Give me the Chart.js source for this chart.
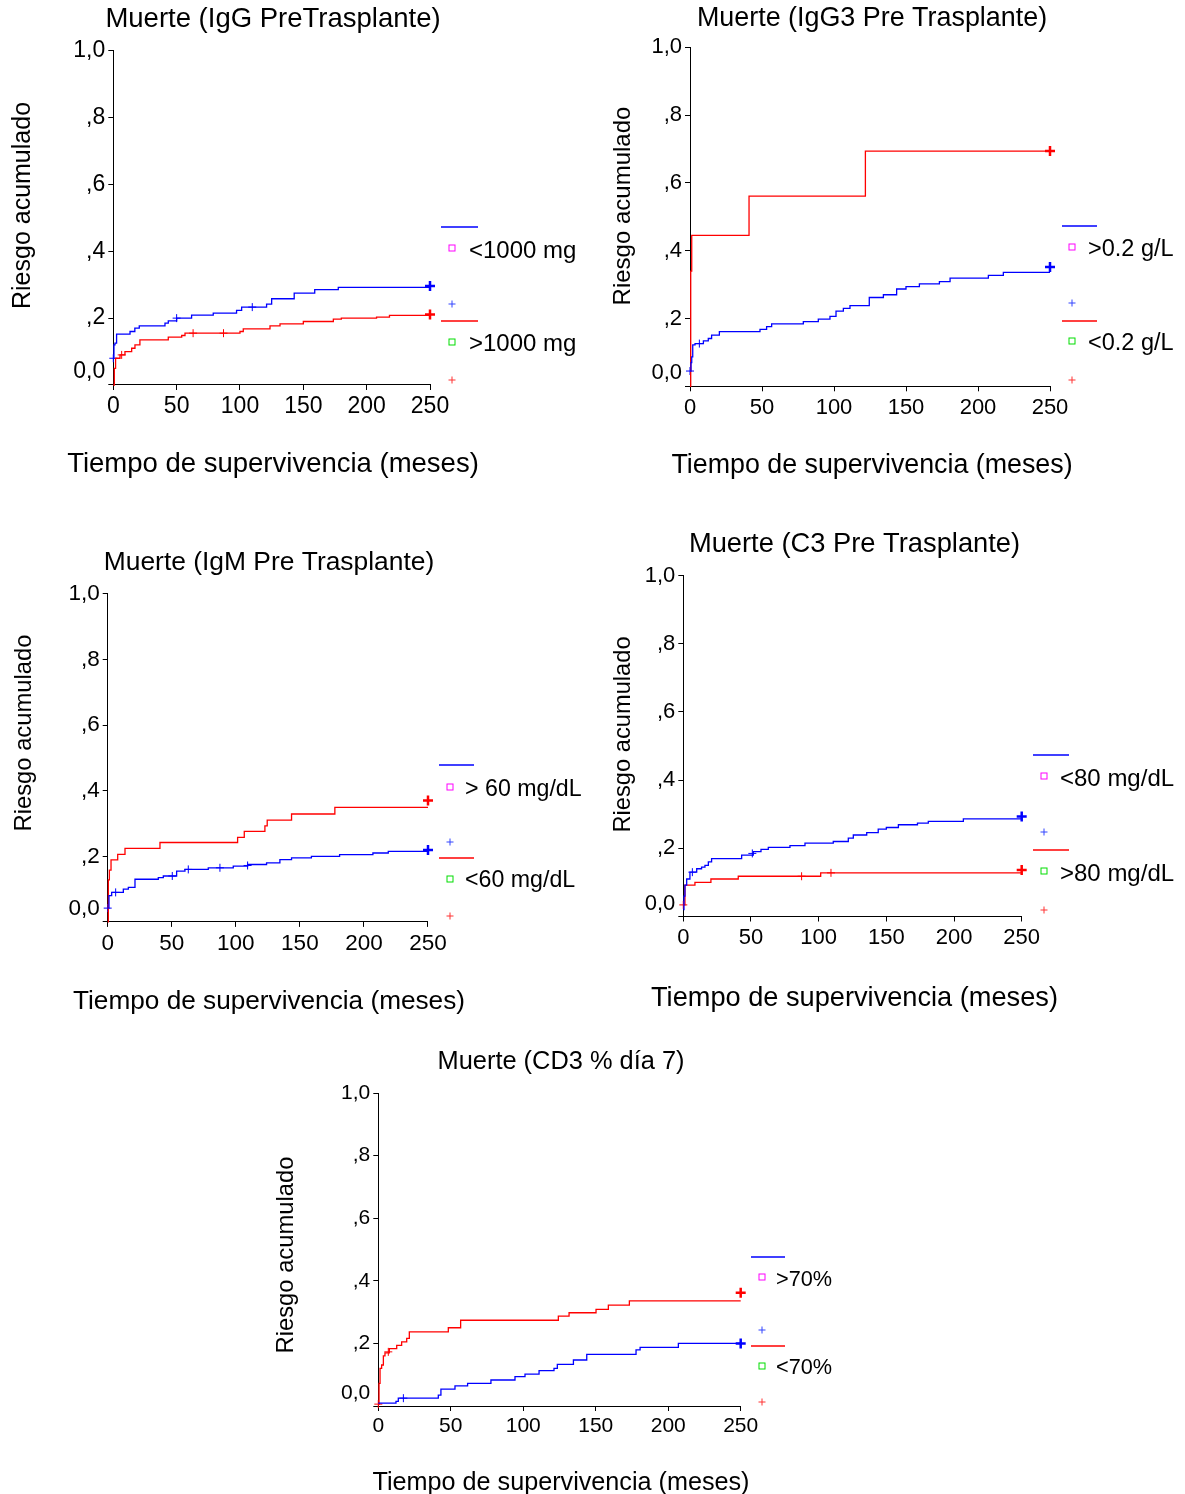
<!DOCTYPE html>
<html>
<head>
<meta charset="utf-8">
<script src="https://cdn.jsdelivr.net/npm/chart.js@4"></script>
<style>
html,body{margin:0;padding:0;background:#fff;}
#wrap{position:relative;width:1185px;height:1494px;overflow:hidden;}
#wrap canvas{position:absolute;left:0;top:0;}
</style>
</head>
<body>
<div id="wrap">
<canvas id="c1" width="1185" height="1494"></canvas>
<canvas id="c2" width="1185" height="1494"></canvas>
<canvas id="c3" width="1185" height="1494"></canvas>
<canvas id="c4" width="1185" height="1494"></canvas>
<canvas id="c5" width="1185" height="1494"></canvas>
</div>
<script>
// ---------------- DATA ----------------
const xTicks = [0, 50, 100, 150, 200, 250];
const yTicks = [0, 0.2, 0.4, 0.6, 0.8, 1.0];
const yTickLabels = ['0,0', ',2', ',4', ',6', ',8', '1,0'];
const xAxisTitle = 'Tiempo de supervivencia (meses)';
const yAxisTitle = 'Riesgo acumulado';

// Panel 1: IgG
const p1Title = 'Muerte (IgG PreTrasplante)';
const p1Labels = ['<1000 mg', '>1000 mg'];
const p1BlueT = [0, 0.5, 1.3, 2.6, 13.2, 17, 20.5, 40.8, 43.4, 50, 61.8, 78.9, 97.3, 101.3, 121, 125, 142.8, 159, 177.6, 250];
const p1BlueV = [0.08, 0.12, 0.125, 0.152, 0.16, 0.17, 0.177, 0.185, 0.192, 0.2, 0.209, 0.215, 0.223, 0.233, 0.242, 0.258, 0.275, 0.285, 0.292, 0.292];
const p1BlueCensT = [0, 50, 109.7];
const p1BlueCensV = [0.08, 0.2, 0.233];
const p1BlueEnd = [250, 0.296];
const p1RedT = [0, 0.8, 1.8, 5.3, 9.2, 14.5, 17.1, 21, 43.4, 54, 56.6, 100, 102.6, 123.7, 131.6, 150, 173.7, 180, 207.8, 218, 250];
const p1RedV = [0, 0.05, 0.08, 0.09, 0.1, 0.11, 0.12, 0.135, 0.143, 0.148, 0.155, 0.16, 0.168, 0.177, 0.183, 0.19, 0.197, 0.2, 0.203, 0.208, 0.208];
const p1RedCensT = [6.6, 63, 87];
const p1RedCensV = [0.09, 0.155, 0.155];
const p1RedEnd = [250, 0.211];

// Panel 2: IgG3
const p2Title = 'Muerte (IgG3 Pre Trasplante)';
const p2Labels = ['>0.2 g/L', '<0.2 g/L'];
const p2BlueT = [0, 0.7, 1.2, 1.9, 3.5, 9.3, 12.7, 15, 20.4, 48.6, 53.2, 56.7, 78.7, 89.1, 97.2, 101.4, 106.5, 111.1, 124.5, 134.3, 143.5, 150, 159.3, 173.2, 180.6, 207.2, 217.6, 250];
const p2BlueV = [0.045, 0.07, 0.087, 0.122, 0.126, 0.134, 0.141, 0.151, 0.161, 0.168, 0.176, 0.184, 0.191, 0.198, 0.206, 0.222, 0.23, 0.238, 0.262, 0.27, 0.287, 0.294, 0.302, 0.309, 0.319, 0.327, 0.336, 0.336];
const p2BlueCensT = [0, 6.5];
const p2BlueCensV = [0.045, 0.126];
const p2BlueEnd = [250, 0.352];
const p2RedT = [0, 0.5, 1.2, 41, 121.8, 250];
const p2RedV = [0, 0.34, 0.445, 0.561, 0.694, 0.694];
const p2RedCensT = [];
const p2RedCensV = [];
const p2RedEnd = [250, 0.694];

// Panel 3: IgM
const p3Title = 'Muerte (IgM Pre Trasplante)';
const p3Labels = ['> 60 mg/dL', '<60 mg/dL'];
const p3BlueT = [0, 1, 3.1, 12.2, 16.1, 21.3, 39.5, 43.4, 53.8, 60.3, 78.5, 98, 109.2, 124, 134.4, 143.5, 159, 181, 207, 219, 250];
const p3BlueV = [0.042, 0.08, 0.09, 0.1, 0.105, 0.13, 0.135, 0.14, 0.155, 0.16, 0.165, 0.17, 0.175, 0.18, 0.19, 0.195, 0.2, 0.205, 0.21, 0.215, 0.215];
const p3BlueCensT = [0, 6.2, 50.4, 62.9, 87.6, 109.2];
const p3BlueCensV = [0.042, 0.09, 0.14, 0.16, 0.165, 0.172];
const p3BlueEnd = [250, 0.219];
const p3RedT = [0, 0.5, 1.3, 2.6, 7.8, 13.5, 40.8, 101.4, 106.6, 122.7, 124.5, 143.5, 177.3, 250];
const p3RedV = [0, 0.128, 0.158, 0.189, 0.206, 0.224, 0.242, 0.258, 0.276, 0.293, 0.31, 0.329, 0.349, 0.349];
const p3RedCensT = [];
const p3RedCensV = [];
const p3RedEnd = [250, 0.37];

// Panel 4: C3
const p4Title = 'Muerte (C3 Pre Trasplante)';
const p4Labels = ['<80 mg/dL', '>80 mg/dL'];
const p4BlueT = [0, 0.5, 1.2, 2.5, 4.9, 9.9, 13.5, 16, 18.5, 20.9, 43.1, 51.7, 57.4, 62.8, 78.8, 89.9, 110.8, 121.9, 125.6, 135.5, 144, 150, 158.9, 173, 181, 206.9, 250];
const p4BlueV = [0.02, 0.06, 0.092, 0.11, 0.13, 0.14, 0.145, 0.15, 0.16, 0.17, 0.18, 0.19, 0.197, 0.203, 0.208, 0.215, 0.22, 0.23, 0.239, 0.246, 0.256, 0.261, 0.269, 0.274, 0.279, 0.286, 0.286];
const p4BlueCensT = [6.7, 51];
const p4BlueCensV = [0.13, 0.185];
const p4BlueEnd = [250, 0.293];
const p4RedT = [0, 1.2, 8.6, 20.4, 40.6, 101.5, 250];
const p4RedV = [0.034, 0.092, 0.1, 0.11, 0.118, 0.128, 0.128];
const p4RedCensT = [0, 87.4, 109.1];
const p4RedCensV = [0.034, 0.118, 0.128];
const p4RedEnd = [250, 0.136];

// Panel 5: CD3
const p5Title = 'Muerte (CD3 % día 7)';
const p5Labels = ['>70%', '<70%'];
const p5BlueT = [0, 12.2, 13.8, 41.4, 43.2, 52.9, 61.6, 77.7, 94.3, 101.2, 110.9, 121.2, 123.5, 134.6, 143.8, 177.8, 180.6, 207, 250];
const p5BlueV = [0.009, 0.015, 0.025, 0.035, 0.054, 0.064, 0.072, 0.083, 0.094, 0.102, 0.113, 0.12, 0.133, 0.147, 0.165, 0.179, 0.187, 0.2, 0.2];
const p5BlueCensT = [17.3];
const p5BlueCensV = [0.025];
const p5BlueEnd = [250, 0.2];
const p5RedT = [0, 0.5, 1.2, 2.3, 3.5, 4.6, 7.6, 12.7, 16.1, 19.6, 21.4, 48.3, 56.8, 124.2, 131.6, 150.2, 158.7, 173.2, 250];
const p5RedV = [0.005, 0.072, 0.12, 0.131, 0.16, 0.17, 0.183, 0.194, 0.205, 0.216, 0.237, 0.25, 0.274, 0.287, 0.298, 0.309, 0.322, 0.336, 0.336];
const p5RedCensT = [0, 6.9];
const p5RedCensV = [0.006, 0.173];
const p5RedEnd = [250, 0.362];

// ---------------- LAYOUT (page pixel geometry) ----------------
// L,R,T,B: plot area; cx: centre of title / x title; tb: title baseline; xb: x-title baseline;
// yb: y-title baseline (x), ym: y-title centre (y); fs: font sizes
const GEOM = [
  {L:113.3, R:430, T:50.7, B:385, cx:273, tb:27, xb:471.5, yb:29.6, ym:205.5,
   fs:{title:27.5, xt:27.5, yt:25, tick:23, leg:24},
   leg:{x1:441, x2:478, sq:452, tx:469, rows:[[227,248,251,304],[321,342,344,380]]}},
  {L:690, R:1050, T:47.3, B:386.3, cx:872, tb:25.5, xb:473, yb:630, ym:206,
   fs:{title:26.9, xt:26.8, yt:24, tick:22, leg:23.5},
   leg:{x1:1062, x2:1097, sq:1072, tx:1088, rows:[[226,247,250,303],[321,341,344,380]]}},
  {L:107.7, R:428, T:593.9, B:921.9, cx:269, tb:570, xb:1008.5, yb:31, ym:733,
   fs:{title:26.4, xt:26.2, yt:23.8, tick:22.5, leg:23.2},
   leg:{x1:439, x2:474, sq:450, tx:465, rows:[[765,787,790,842],[858,879,881,916]]}},
  {L:683.3, R:1021.7, T:575.5, B:916.5, cx:854.5, tb:552, xb:1005.5, yb:630, ym:734.5,
   fs:{title:27.3, xt:27.2, yt:23.7, tick:22, leg:24},
   leg:{x1:1033, x2:1069, sq:1044, tx:1060, rows:[[755,776,779,832],[850,871,874,910]]}},
  {L:378.3, R:740.7, T:1093, B:1406, cx:561, tb:1069, xb:1489.5, yb:293, ym:1255,
   fs:{title:25.4, xt:25.2, yt:23.8, tick:21, leg:21.7},
   leg:{x1:751, x2:785, sq:762, tx:776, rows:[[1257,1277,1280,1330],[1346,1366,1368,1402]]}}
];

const W = 1185, H = 1494;
const FONT = '"Liberation Sans", Arial, sans-serif';
const BLUE = '#0000ff', RED = '#ff0000';
const Y_AXIS_W = 60, X_AXIS_H = 40;

Chart.defaults.font.family = FONT;
Chart.defaults.color = '#000';

const pts = (t, v) => t.map((x, i) => ({x: x, y: v[i]}));

const kmText = {
  id: 'kmText',
  afterDraw(chart, args, o) {
    if (!o.geom) return;
    const g = o.geom, ctx = chart.ctx;
    ctx.save();
    ctx.fillStyle = '#000';
    ctx.textAlign = 'center';
    ctx.textBaseline = 'alphabetic';
    ctx.font = g.fs.title + 'px ' + FONT;
    ctx.fillText(o.title, g.cx, g.tb);
    ctx.font = g.fs.xt + 'px ' + FONT;
    ctx.fillText(o.xTitle, g.cx, g.xb);
    ctx.translate(g.yb, g.ym);
    ctx.rotate(-Math.PI / 2);
    ctx.font = g.fs.yt + 'px ' + FONT;
    ctx.fillText(o.yTitle, 0, 0);
    ctx.restore();
  }
};

const kmLegend = {
  id: 'kmLegend',
  afterDraw(chart, args, opts) {
    const g = opts.geom;
    if (!g) return;
    const ctx = chart.ctx;
    const entries = chart.data.datasets.filter(d => d.kmEntry);
    ctx.save();
    entries.forEach((d, i) => {
      const r = g.rows[i];
      ctx.strokeStyle = d.borderColor; ctx.lineWidth = 1.3;
      ctx.beginPath(); ctx.moveTo(g.x1, r[0]); ctx.lineTo(g.x2, r[0]); ctx.stroke();
      ctx.strokeStyle = d.kmSquare; ctx.lineWidth = 1;
      ctx.strokeRect(g.sq - 3, r[1] - 3, 6, 6);
      ctx.fillStyle = '#000';
      ctx.font = opts.size + 'px ' + FONT;
      ctx.textAlign = 'left'; ctx.textBaseline = 'middle';
      ctx.fillText(d.label, g.tx, r[2]);
      ctx.strokeStyle = d.kmPlus; ctx.lineWidth = 1;
      ctx.beginPath();
      ctx.moveTo(g.sq - 3.5, r[3]); ctx.lineTo(g.sq + 3.5, r[3]);
      ctx.moveTo(g.sq, r[3] - 3.5); ctx.lineTo(g.sq, r[3] + 3.5);
      ctx.stroke();
    });
    ctx.restore();
  }
};

const zeroShift = {
  id: 'zeroShift',
  beforeDraw(chart) {
    try {
      const s = chart.scales.y;
      const items = s.getLabelItems(chart.chartArea);
      if (!items._shifted) {
        items.forEach(it => { if (it.label === '0,0') it.options.translation[1] -= 13; });
        items._shifted = true;
      }
    } catch (e) {}
  }
};

function makeChart(id, g, title, labels, blue, red) {
  const censor = (t, v, col) => ({type: 'scatter', data: pts(t, v), showLine: false,
    pointStyle: 'cross', pointRadius: 4, pointBorderWidth: 1, borderColor: col, backgroundColor: col, clip: false});
  const endMark = (e, col) => ({type: 'scatter', data: [{x: e[0], y: e[1]}], showLine: false,
    pointStyle: 'cross', pointRadius: 5, pointBorderWidth: 2.5, borderColor: col, backgroundColor: col, clip: false});
  const line = (t, v, col, lab, sq, plus) => ({type: 'line', label: lab, data: pts(t, v), stepped: true,
    borderColor: col, borderWidth: 1.3, pointRadius: 0, fill: false, clip: false, kmEntry: true, kmSquare: sq, kmPlus: plus});
  return new Chart(document.getElementById(id), {
    data: {
      datasets: [
        line(blue.t, blue.v, BLUE, labels[0], '#ff00ff', '#3344ff'),
        line(red.t, red.v, RED, labels[1], '#00dd00', '#ff3333'),
        censor(blue.ct, blue.cv, BLUE),
        censor(red.ct, red.cv, RED),
        endMark(blue.end, BLUE),
        endMark(red.end, RED)
      ]
    },
    options: {
      responsive: false,
      animation: false,
      events: [],
      layout: {padding: {left: g.L - Y_AXIS_W, right: W - g.R, top: g.T, bottom: H - g.B - X_AXIS_H}},
      plugins: {
        legend: {display: false},
        tooltip: {enabled: false},
        title: {display: false},
        kmLegend: {geom: g.leg, size: g.fs.leg},
        kmText: {geom: g, title: title, xTitle: xAxisTitle, yTitle: yAxisTitle}
      },
      scales: {
        x: {
          type: 'linear', min: xTicks[0], max: xTicks[xTicks.length - 1],
          afterBuildTicks: s => { s.ticks = xTicks.map(v => ({value: v})); },
          afterFit: s => { s.height = X_AXIS_H; },
          grid: {drawOnChartArea: false, drawTicks: true, tickLength: 5, color: '#000'},
          border: {display: true, color: '#000', width: 1},
          ticks: {font: {size: g.fs.tick}, color: '#000', padding: 3, maxRotation: 0, autoSkip: false,
            callback: v => String(v)},
          title: {display: false, text: xAxisTitle}
        },
        y: {
          type: 'linear', min: yTicks[0], max: yTicks[yTicks.length - 1],
          afterBuildTicks: s => { s.ticks = yTicks.map(v => ({value: v})); },
          afterFit: s => { s.width = Y_AXIS_W; },
          grid: {drawOnChartArea: false, drawTicks: true, tickLength: 5, color: '#000'},
          border: {display: true, color: '#000', width: 1},
          ticks: {font: {size: g.fs.tick}, color: '#000', padding: 3, autoSkip: false,
            callback: v => { const i = yTicks.findIndex(t => Math.abs(t - v) < 1e-6); return i >= 0 ? yTickLabels[i] : ''; }},
          title: {display: false, text: yAxisTitle}
        }
      }
    },
    plugins: [kmLegend, kmText, zeroShift]
  });
}

makeChart('c1', GEOM[0], p1Title, p1Labels,
  {t: p1BlueT, v: p1BlueV, ct: p1BlueCensT, cv: p1BlueCensV, end: p1BlueEnd},
  {t: p1RedT, v: p1RedV, ct: p1RedCensT, cv: p1RedCensV, end: p1RedEnd});
makeChart('c2', GEOM[1], p2Title, p2Labels,
  {t: p2BlueT, v: p2BlueV, ct: p2BlueCensT, cv: p2BlueCensV, end: p2BlueEnd},
  {t: p2RedT, v: p2RedV, ct: p2RedCensT, cv: p2RedCensV, end: p2RedEnd});
makeChart('c3', GEOM[2], p3Title, p3Labels,
  {t: p3BlueT, v: p3BlueV, ct: p3BlueCensT, cv: p3BlueCensV, end: p3BlueEnd},
  {t: p3RedT, v: p3RedV, ct: p3RedCensT, cv: p3RedCensV, end: p3RedEnd});
makeChart('c4', GEOM[3], p4Title, p4Labels,
  {t: p4BlueT, v: p4BlueV, ct: p4BlueCensT, cv: p4BlueCensV, end: p4BlueEnd},
  {t: p4RedT, v: p4RedV, ct: p4RedCensT, cv: p4RedCensV, end: p4RedEnd});
makeChart('c5', GEOM[4], p5Title, p5Labels,
  {t: p5BlueT, v: p5BlueV, ct: p5BlueCensT, cv: p5BlueCensV, end: p5BlueEnd},
  {t: p5RedT, v: p5RedV, ct: p5RedCensT, cv: p5RedCensV, end: p5RedEnd});
</script>
</body>
</html>
